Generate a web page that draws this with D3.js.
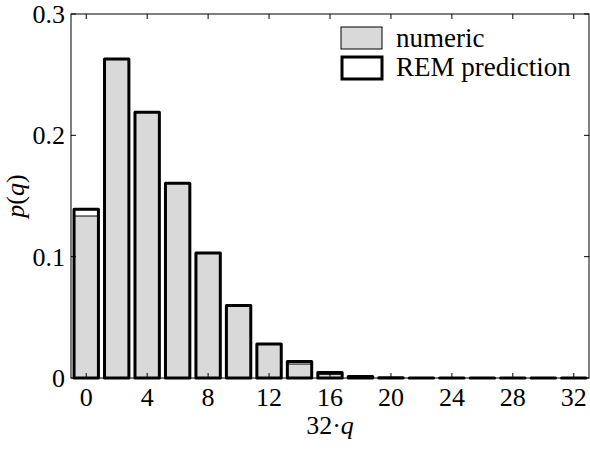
<!DOCTYPE html>
<html>
<head>
<script src="https://d3js.org/d3.v7.min.js"></script>
</head>
<body style="margin:0">
<script>
    // data
    const qValues = [0, 2, 4, 6, 8, 10, 12, 14, 16, 18, 20, 22, 24, 26, 28, 30, 32];
    const numeric = [0.1335, 0.263, 0.219, 0.1605, 0.103, 0.0598, 0.028, 0.0115, 0.003, 0.0006, 0.0001, 0, 0, 0, 0, 0, 0];
    const remPrediction = [0.139, 0.263, 0.219, 0.1605, 0.103, 0.0598, 0.028, 0.0136, 0.0045, 0.0013, 0.0003, 0.00005, 0, 0, 0, 0, 0];
    const xTicks = [0, 4, 8, 12, 16, 20, 24, 28, 32];
    const yTicks = [0, 0.1, 0.2, 0.3];

    const width = 590, height = 450;
    const margin = { top: 14, right: 1, bottom: 72, left: 71 };

    const svg = d3.select("body").append("svg")
        .attr("width", width)
        .attr("height", height);

    // every label goes through here so the serif face is set on the element itself
    function label(sel, size) {
        sel.style("font-family", "'Liberation Serif'")
            .attr("font-size", size || 26);
    }

    const x = d3.scaleLinear().domain([-1, 33]).range([margin.left, width - margin.right]);
    const y = d3.scaleLinear().domain([0, 0.3]).range([height - margin.bottom, margin.top]);
    const barW = x(1.6) - x(0);

    // bar outline as a path, so that zero height bars still show their edge
    function barPath(q, v) {
        const p = d3.path();
        p.rect(x(q) - barW / 2, y(v), barW, y(0) - y(v));
        return p.toString();
    }

    // numeric bars (gray, thin edge)
    svg.append("g")
        .selectAll("path")
        .data(qValues)
        .enter().append("path")
        .attr("d", (d, i) => barPath(d, numeric[i]))
        .attr("fill", "#d9d9d9")
        .attr("stroke", "#000")
        .attr("stroke-width", 1);

    // REM prediction bars (thick outline)
    svg.append("g")
        .selectAll("path")
        .data(qValues)
        .enter().append("path")
        .attr("d", (d, i) => barPath(d, remPrediction[i]))
        .attr("fill", "none")
        .attr("stroke", "#000")
        .attr("stroke-width", 3)
        .attr("stroke-linejoin", "round");

    // box frame
    const x0 = margin.left, x1 = width - margin.right, y0 = margin.top, y1 = height - margin.bottom;
    svg.append("rect")
        .attr("x", x0).attr("y", y0)
        .attr("width", x1 - x0).attr("height", y1 - y0)
        .attr("fill", "none").attr("stroke", "#000").attr("stroke-width", 1);

    // ticks pointing inward, on all four sides
    const tickLen = 5;
    const ticks = svg.append("g").attr("stroke", "#000").attr("stroke-width", 1);
    xTicks.forEach(t => {
        ticks.append("line").attr("x1", x(t)).attr("x2", x(t)).attr("y1", y1).attr("y2", y1 - tickLen);
        ticks.append("line").attr("x1", x(t)).attr("x2", x(t)).attr("y1", y0).attr("y2", y0 + tickLen);
    });
    yTicks.forEach(t => {
        ticks.append("line").attr("x1", x0).attr("x2", x0 + tickLen).attr("y1", y(t)).attr("y2", y(t));
        ticks.append("line").attr("x1", x1).attr("x2", x1 - tickLen).attr("y1", y(t)).attr("y2", y(t));
    });

    // tick labels
    svg.append("g")
        .selectAll("text")
        .data(xTicks)
        .enter().append("text")
        .attr("x", d => x(d))
        .attr("y", y1 + 28)
        .attr("text-anchor", "middle")
        .call(label)
        .text(d => d);

    svg.append("g")
        .selectAll("text")
        .data(yTicks)
        .enter().append("text")
        .attr("x", x0 - 6)
        .attr("y", d => y(d) + 9)
        .attr("text-anchor", "end")
        .call(label)
        .text(d => d === 0 ? "0" : d.toFixed(1));

    // axis labels
    const xl = svg.append("text")
        .attr("x", (x0 + x1) / 2)
        .attr("y", 434)
        .attr("text-anchor", "middle")
        .call(label);
    xl.append("tspan").text("32\u00b7");
    xl.append("tspan").attr("font-style", "italic").text("q");

    const yl = svg.append("text")
        .attr("transform", `translate(24,${(y0 + y1) / 2}) rotate(-90)`)
        .attr("text-anchor", "middle")
        .call(label);
    yl.append("tspan").attr("font-style", "italic").text("p");
    yl.append("tspan").text("(");
    yl.append("tspan").attr("font-style", "italic").text("q");
    yl.append("tspan").text(")");

    // legend
    const legend = svg.append("g");
    legend.append("rect")
        .attr("x", 341).attr("y", 27).attr("width", 41).attr("height", 22)
        .attr("fill", "#d9d9d9").attr("stroke", "#000").attr("stroke-width", 1);
    legend.append("text")
        .attr("x", 396).attr("y", 47)
        .call(label, 27)
        .text("numeric");
    legend.append("rect")
        .attr("x", 342).attr("y", 57).attr("width", 40).attr("height", 22)
        .attr("fill", "none").attr("stroke", "#000").attr("stroke-width", 3);
    legend.append("text")
        .attr("x", 396).attr("y", 76)
        .call(label, 27)
        .text("REM prediction");
</script>
</body>
</html>
